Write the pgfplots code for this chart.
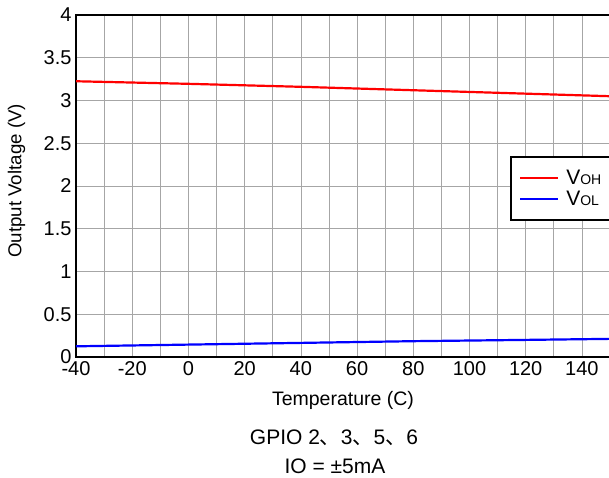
\documentclass[border=0pt]{standalone}
\usepackage{pgfplots}
\pgfplotsset{compat=1.18}
\usepackage{fontspec}
\setmainfont{Liberation Sans}
\newfontfamily\cjk{Noto Sans CJK SC}
\begin{document}
\begin{tikzpicture}
\useasboundingbox (0pt,0pt) rectangle (609pt,478pt);
\begin{scope}
\clip (0pt,0pt) rectangle (609pt,478pt);
\begin{axis}[
  at={(76pt,121pt)}, anchor=south west,
  scale only axis, width=534pt, height=342pt,
  xmin=-40, xmax=150, ymin=0, ymax=4,
  xtick={-40,-20,...,140}, ytick={0,0.5,...,4},
  minor xtick={-30,-10,...,150},
  grid=both,
  major grid style={gray!70, line width=0.6pt},
  minor grid style={gray!70, line width=0.6pt},
  axis line style={black, line width=2.4pt},
  tick style={draw=none},
  /pgf/number format/assume math mode=true,
  tick label style={font=\fontsize{20}{22}\selectfont},
  yticklabel style={/pgf/number format/fixed, xshift=-1pt},
  xticklabel style={yshift=-1pt},
  xlabel={Temperature (C)}, ylabel={Output Voltage (V)},
  xlabel style={font=\fontsize{19.5}{22}\selectfont, at={(axis description cs:0.5,0)}, anchor=center, yshift=-43.5pt},
  ylabel style={font=\fontsize{18.7}{21}\selectfont, at={(axis description cs:-0.1112,0.515)}, anchor=center},
  legend style={at={(0.813,0.5875)}, anchor=north west, draw=black, line width=2.2pt,
    font=\fontsize{21}{23}\selectfont, inner xsep=8pt, inner ysep=11pt, row sep=1pt,
    /tikz/every odd column/.append style={column sep=5pt}},
  legend cell align=left,
]
\addplot[red, line width=2.2pt, forget plot] coordinates {(-40,3.225) (0,3.195) (40,3.16) (80,3.12) (120,3.08) (150,3.05)};
\addplot[blue, line width=2.2pt, forget plot] coordinates {(-40,0.125) (0,0.145) (40,0.165) (80,0.185) (120,0.2) (150,0.212)};
\addlegendimage{legend image code/.code={\draw[red, line width=2pt] (0pt,0pt) -- (38pt,0pt);}}
\addlegendentry{V{\fontsize{14}{16}\selectfont OH}}
\addlegendimage{legend image code/.code={\draw[blue, line width=2pt] (0pt,0pt) -- (38pt,0pt);}}
\addlegendentry{V{\fontsize{14}{16}\selectfont OL}}
\end{axis}
\end{scope}
\node[font=\fontsize{21}{23}\selectfont] at (334pt,40pt) {GPIO 2{\cjk 、}3{\cjk 、}5{\cjk 、}6};
\node[font=\fontsize{21}{23}\selectfont] at (335pt,12pt) {IO = ±5mA};
\end{tikzpicture}
\end{document}
